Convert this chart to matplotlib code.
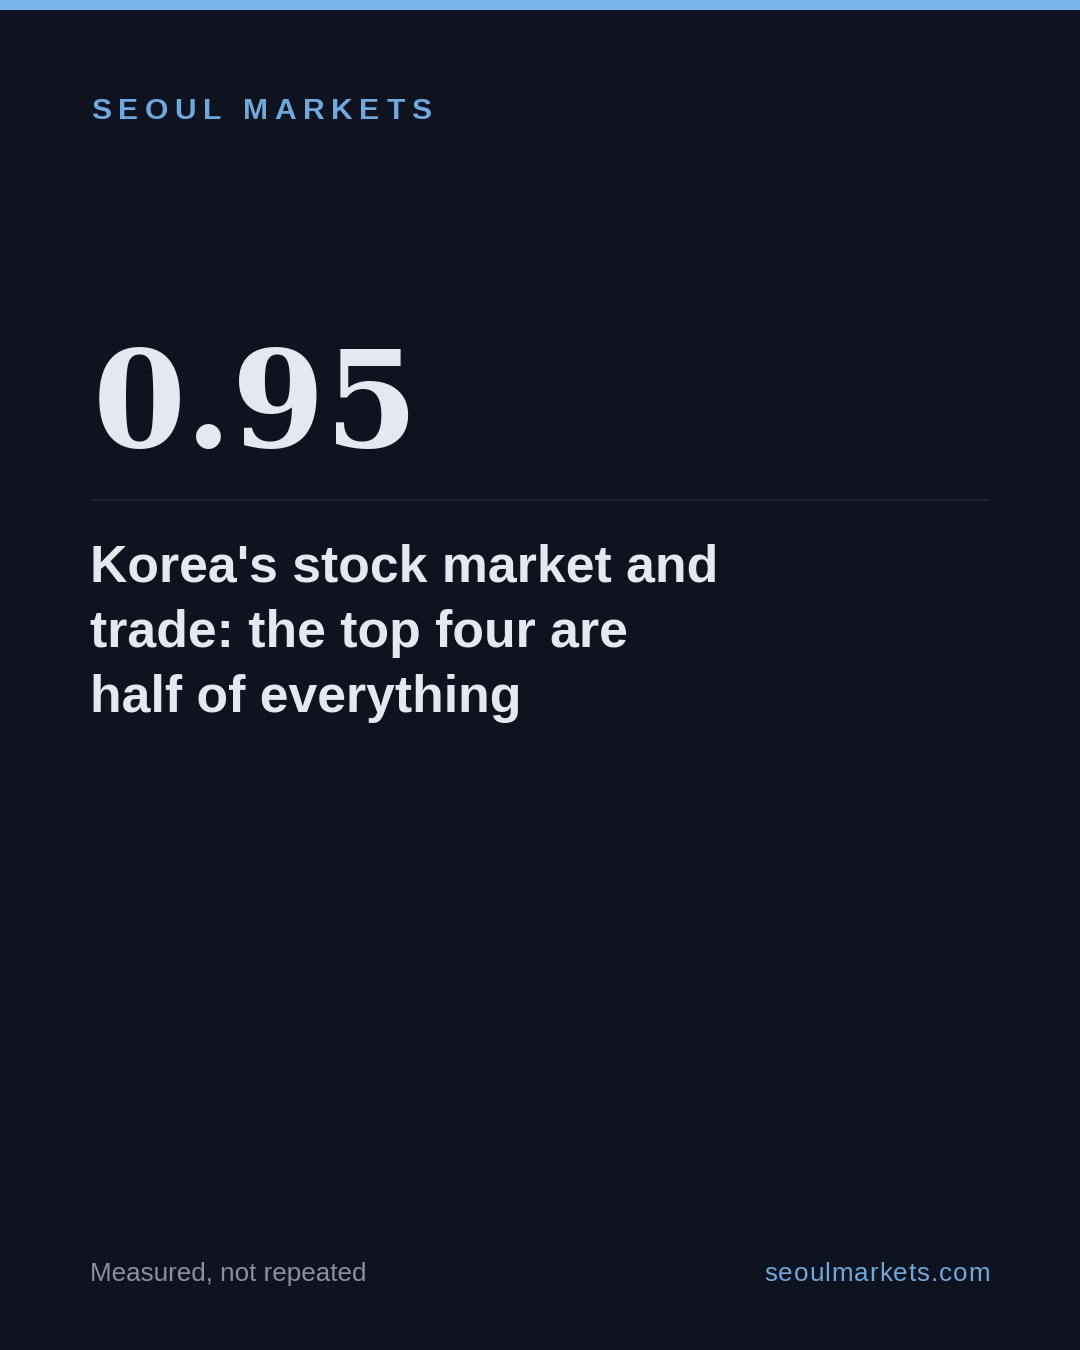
import matplotlib
matplotlib.use("Agg")
import matplotlib.pyplot as plt
from matplotlib.patches import Rectangle

# card content
brand = "SEOUL MARKETS"
stat_value = 0.95
headline_lines = ["Korea's stock market and", "trade: the top four are", "half of everything"]
footer_left = "Measured, not repeated"
footer_right = "seoulmarkets.com"

# colours
BG = "#0e131f"
ACCENT = "#79b3e8"
BRAND_BLUE = "#6fa8dc"
WHITE = "#e5e8ee"
GREY = "#8a919e"
RULE = "#1d2331"

W, H, DPI = 1080, 1350, 100
PT = 72 / DPI  # px -> points

fig = plt.figure(figsize=(W / DPI, H / DPI), dpi=DPI, facecolor=BG)
ax = fig.add_axes([0, 0, 1, 1])
ax.set_xlim(0, W)
ax.set_ylim(H, 0)
ax.axis("off")
ax.set_facecolor(BG)
renderer = fig.canvas.get_renderer()


def spaced_text(x, y, s, size_px, spacing, align="left", **kw):
    # matplotlib has no letter-spacing, so place one glyph at a time
    arts, widths = [], []
    for ch in s:
        t = ax.text(0, y, ch, fontsize=size_px * PT, va="baseline", ha="left", **kw)
        if ch == " ":
            w = size_px * 0.278
        else:
            w = t.get_window_extent(renderer).width
        arts.append(t)
        widths.append(w)
    total = sum(widths) + spacing * (len(s) - 1)
    cx = x - total if align == "right" else x
    for t, w in zip(arts, widths):
        t.set_x(cx)
        cx += w + spacing


# top accent bar
ax.add_patch(Rectangle((0, 0), W, 10, color=ACCENT, lw=0))

# brand line
spaced_text(91, 119, brand, 30, 6.7, color=BRAND_BLUE,
            fontfamily="Liberation Sans", fontweight="bold")

# big number
ax.text(93, 447, f"{stat_value:.2f}", fontsize=134 * PT, color=WHITE,
        fontfamily="DejaVu Serif", fontweight="bold", va="baseline", ha="left")

# divider
ax.plot([91, 990], [499.5, 499.5], color=RULE, lw=1.5, solid_capstyle="butt")

# headline
for i, line in enumerate(headline_lines):
    ax.text(90, 581 + i * 65.5, line, fontsize=51.8 * PT, color=WHITE,
            fontfamily="Liberation Sans", fontweight="bold", va="baseline", ha="left")

# footer
ax.text(90, 1281, footer_left, fontsize=26 * PT, color=GREY,
        fontfamily="Liberation Sans", va="baseline", ha="left")
spaced_text(990, 1281, footer_right, 26, 1.0, align="right", color=BRAND_BLUE,
            fontfamily="Liberation Sans")

fig.savefig("out.png", dpi=DPI, facecolor=BG)
plt.close(fig)
